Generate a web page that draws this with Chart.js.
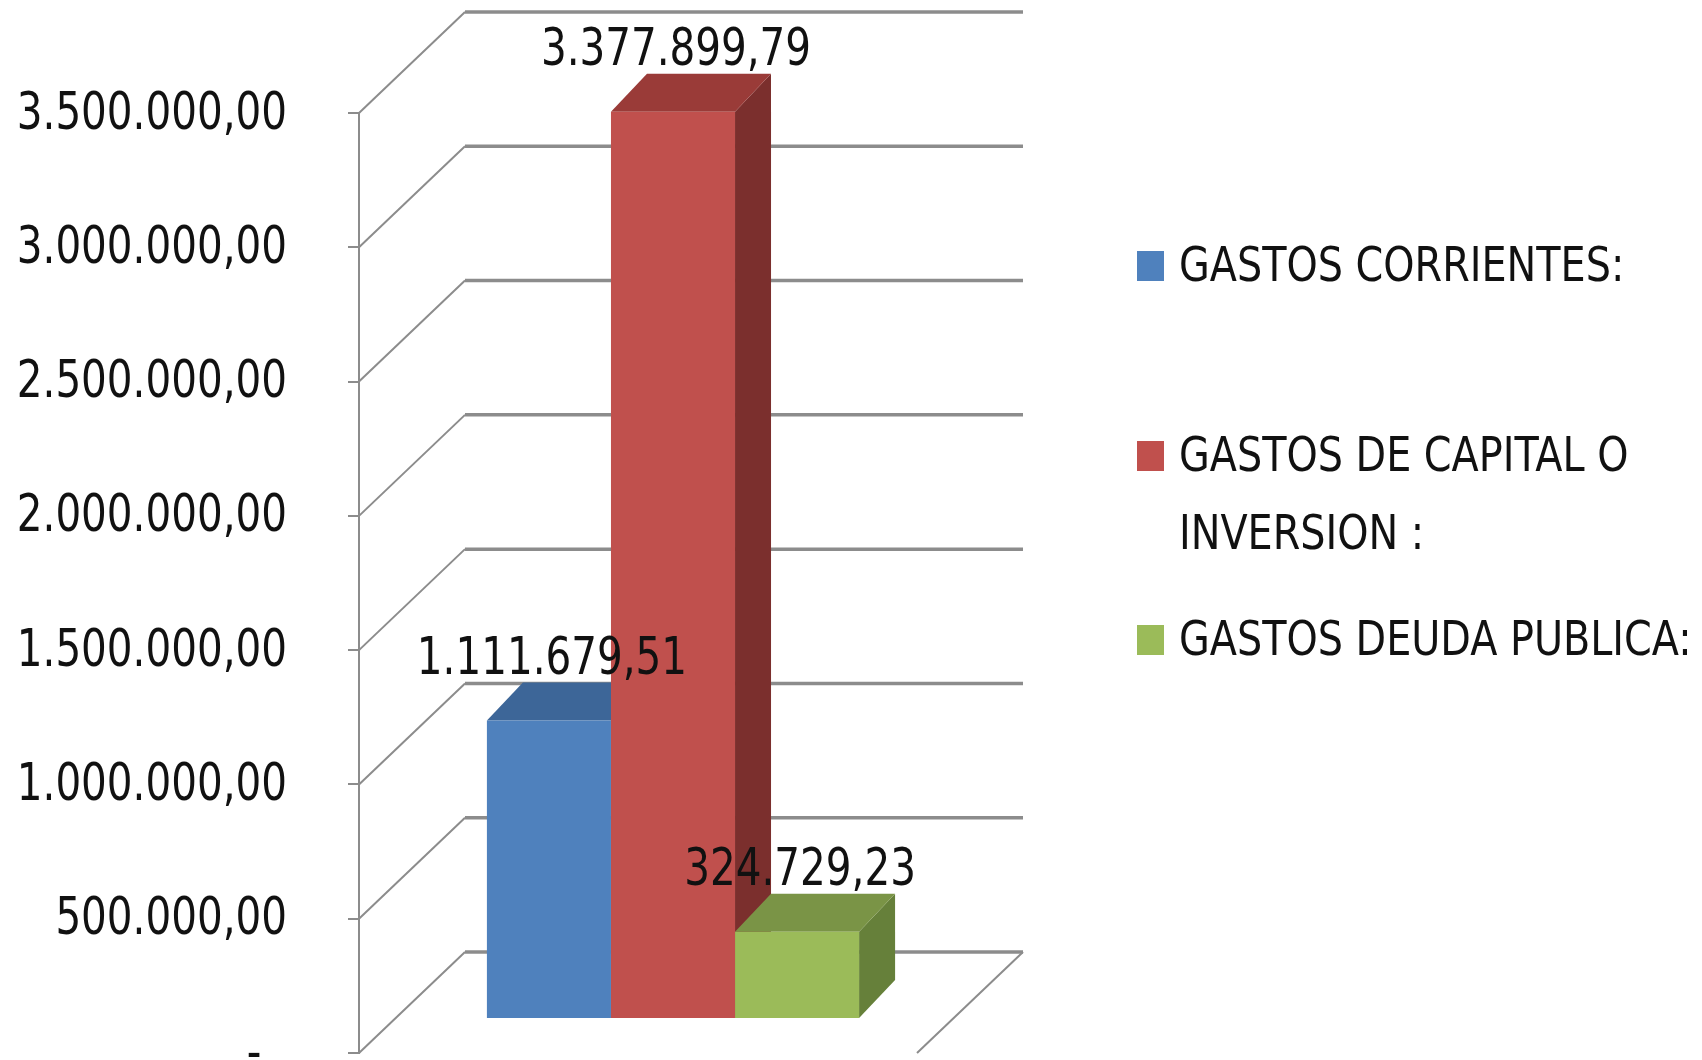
<!DOCTYPE html>
<html lang="es">
<head>
<meta charset="utf-8">
<title>Gastos</title>
<script src="https://cdn.jsdelivr.net/npm/chart.js@4.4.1/dist/chart.umd.min.js"></script>
<style>
  html, body { margin: 0; padding: 0; background: #fff; }
  canvas { display: block; }
</style>
</head>
<body>
<canvas id="gastosChart" width="1702" height="1060"></canvas>
<script>
// --- datos ---
const categories = ['GASTOS'];
const seriesNames = ['GASTOS CORRIENTES:', 'GASTOS DE CAPITAL O\nINVERSION :', 'GASTOS DEUDA PUBLICA:'];
const gastosCorrientes = [1111679.51];
const gastosCapital = [3377899.79];
const gastosDeuda = [324729.23];
const yTickValues = [0, 500000, 1000000, 1500000, 2000000, 2500000, 3000000, 3500000];
const yTickLabels = ['-  ', '500.000,00', '1.000.000,00', '1.500.000,00', '2.000.000,00', '2.500.000,00', '3.000.000,00', '3.500.000,00'];
// ---

// colores (frente / arriba / lado) estilo Excel 2007
const frontColors = ['#4f81bd', '#c0504d', '#9bbb59'];
const topColors   = ['#3d6698', '#9a3b38', '#7a9446'];
const sideColors  = ['#335785', '#7b2f2d', '#66803a'];

// no hay Calibri: DejaVu condensada y un poco estrechada
const FONT = "'DejaVu Sans Condensed', 'Liberation Sans', sans-serif";
const TEXT_SX = 0.865;
const GRID = '#8c8c8c';
const BAR_SHIFT = { x: 35, y: -34 };    // plano frontal -> frente de las barras
const BAR_DEPTH = { x: 36, y: -38 };    // profundidad de cada barra
const WALL_SHIFT = { x: 106, y: -101 }; // plano frontal -> pared del fondo

function fmtEs(v) {
    const [ent, dec] = v.toFixed(2).split('.');
    return ent.replace(/\B(?=(\d{3})+(?!\d))/g, '.') + ',' + dec;
}

function poly(ctx, pts) {
    ctx.beginPath();
    ctx.moveTo(pts[0][0], pts[0][1]);
    for (let i = 1; i < pts.length; i++) ctx.lineTo(pts[i][0], pts[i][1]);
    ctx.closePath();
    ctx.fill();
}

function narrowText(ctx, text, x, y, align, sx) {
    ctx.save();
    ctx.translate(x, y);
    ctx.scale(sx, 1);
    ctx.textAlign = align;
    ctx.fillText(text, 0, 0);
    ctx.restore();
}

// pared lateral, fondo, caras 3D, etiquetas y leyenda
const threeD = {
    id: 'threeD',
    beforeDatasetsDraw(chart) {
        const { ctx, chartArea: a } = chart;
        const y = chart.scales.y;

        ctx.save();
        ctx.strokeStyle = GRID;
        yTickValues.forEach(v => {
            const py = y.getPixelForValue(v);
            ctx.lineWidth = 2;
            ctx.beginPath();
            ctx.moveTo(a.left, py);
            ctx.lineTo(a.left + WALL_SHIFT.x, py + WALL_SHIFT.y);
            ctx.stroke();
            ctx.lineWidth = 3.5;
            ctx.beginPath();
            ctx.moveTo(a.left + WALL_SHIFT.x, py + WALL_SHIFT.y);
            ctx.lineTo(a.right + WALL_SHIFT.x, py + WALL_SHIFT.y);
            ctx.stroke();
        });
        // borde derecho del piso
        const p0 = y.getPixelForValue(0);
        ctx.lineWidth = 2;
        ctx.beginPath();
        ctx.moveTo(a.right + WALL_SHIFT.x, p0 + WALL_SHIFT.y);
        ctx.lineTo(a.right, p0);
        ctx.stroke();

        // etiquetas del eje Y (ticks de la escala)
        ctx.font = '52px ' + FONT;
        ctx.fillStyle = '#111';
        ctx.textBaseline = 'middle';
        y.ticks.forEach(t => {
            narrowText(ctx, yTickLabels[yTickValues.indexOf(t.value)], a.left - 72, y.getPixelForValue(t.value) + 2, 'right', TEXT_SX);
        });
        ctx.restore();

        // caras laterales y superiores (el frente lo dibuja Chart.js)
        ctx.save();
        ctx.translate(BAR_SHIFT.x, BAR_SHIFT.y);
        chart.data.datasets.forEach((ds, i) => {
            chart.getDatasetMeta(i).data.forEach(bar => {
                const { x, y: top, base, width } = bar.getProps(['x', 'y', 'base', 'width'], true);
                const l = x - width / 2, r = x + width / 2;
                const dx = BAR_DEPTH.x, dy = BAR_DEPTH.y;
                ctx.fillStyle = sideColors[i];
                poly(ctx, [[r, top], [r + dx, top + dy], [r + dx, base + dy], [r, base]]);
                ctx.fillStyle = topColors[i];
                poly(ctx, [[l, top], [l + dx, top + dy], [r + dx, top + dy], [r, top]]);
            });
        });
        // la traslación sigue activa para las barras
    },
    afterDatasetsDraw(chart) {
        const ctx = chart.ctx;
        ctx.restore();

        // etiquetas de datos
        ctx.save();
        ctx.font = '52px ' + FONT;
        ctx.fillStyle = '#111';
        ctx.textBaseline = 'middle';
        chart.data.datasets.forEach((ds, i) => {
            chart.getDatasetMeta(i).data.forEach((bar, j) => {
                const { x, y } = bar.getProps(['x', 'y'], true);
                narrowText(ctx, fmtEs(ds.data[j]), x + BAR_SHIFT.x + 3, y + BAR_SHIFT.y + BAR_DEPTH.y - 22, 'center', TEXT_SX);
            });
        });
        ctx.restore();
    },
    afterDraw(chart) {
        const ctx = chart.ctx;
        const rowsY = [266, 456, 640];
        const lineH = 78;
        ctx.save();
        ctx.font = '48px ' + FONT;
        ctx.textBaseline = 'middle';
        chart.data.datasets.forEach((ds, i) => {
            ctx.fillStyle = frontColors[i];
            ctx.fillRect(1137, rowsY[i] - 15, 27, 30);
            ctx.fillStyle = '#111';
            ds.label.split('\n').forEach((t, k) => narrowText(ctx, t, 1179, rowsY[i] + 3 + k * lineH, 'left', 0.92));
        });
        ctx.restore();
    }
};

const ctx = document.getElementById('gastosChart');
new Chart(ctx, {
    type: 'bar',
    data: {
        labels: categories,
        datasets: [
            { label: seriesNames[0], data: gastosCorrientes, backgroundColor: frontColors[0] },
            { label: seriesNames[1], data: gastosCapital, backgroundColor: frontColors[1] },
            { label: seriesNames[2], data: gastosDeuda, backgroundColor: frontColors[2] }
        ]
    },
    options: {
        responsive: false,
        animation: false,
        layout: { padding: { left: 0, top: 113, right: 785, bottom: 7 } },
        datasets: {
            bar: { categoryPercentage: 0.667, barPercentage: 1, borderWidth: 0, clip: false }
        },
        scales: {
            x: { display: false },
            y: {
                min: 0,
                max: 3500000,
                ticks: { display: false, stepSize: 500000 },
                grid: { drawOnChartArea: false, drawTicks: true, tickLength: 11, color: GRID, lineWidth: 2 },
                border: { display: true, color: GRID, width: 2 },
                afterFit: (s) => { s.width = 359; s.paddingTop = 0; s.paddingBottom = 0; }
            }
        },
        plugins: {
            legend: { display: false },
            tooltip: { enabled: false }
        }
    },
    plugins: [threeD]
});
</script>
</body>
</html>
